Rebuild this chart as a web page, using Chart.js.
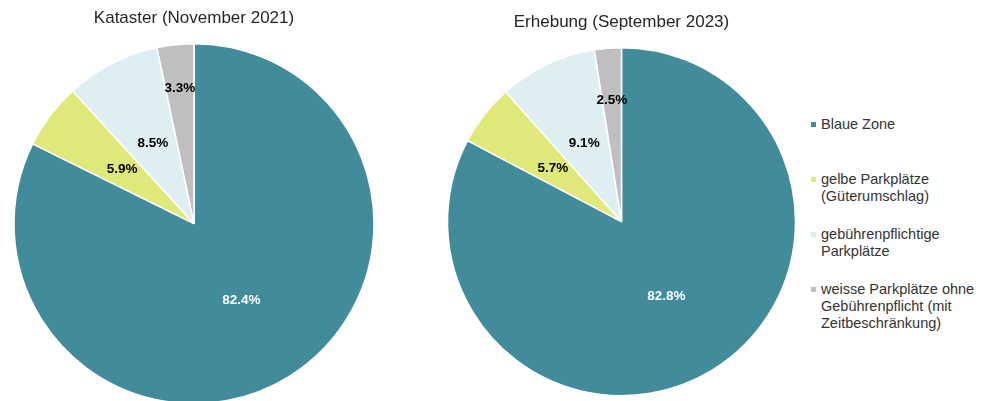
<!DOCTYPE html>
<html>
<head>
<meta charset="utf-8">
<script src="https://cdn.jsdelivr.net/npm/chart.js@4"></script>
<style>
  html, body { margin: 0; padding: 0; background: #fff; }
  body { width: 985px; height: 401px; position: relative; overflow: hidden; font-family: "Liberation Sans", Arial, sans-serif; }
  canvas { position: absolute; }
  #left { left: 0; top: 0; }
  #right { left: 436px; top: 0; }
  #legend { position: absolute; left: 811px; top: 116px; }
  .item { position: relative; height: 55px; padding-left: 10px; font-size: 14.5px; line-height: 17px; color: #333; white-space: nowrap; }
  .item span { position: absolute; left: 0; top: 6px; width: 5px; height: 5px; }
</style>
</head>
<body>
<canvas id="left" width="388" height="409"></canvas>
<canvas id="right" width="371" height="401"></canvas>
<div id="legend"></div>
<script>
const categories = [
  ['Blaue Zone'],
  ['gelbe Parkplätze', '(Güterumschlag)'],
  ['gebührenpflichtige', 'Parkplätze'],
  ['weisse Parkplätze ohne', 'Gebührenpflicht (mit', 'Zeitbeschränkung)']
]
const colors = ['#418b9b', '#e1e87a', '#dfeef3', '#bfbfbf']
const kataster2021 = [82.4, 5.9, 8.5, 3.3]
const erhebung2023 = [82.8, 5.7, 9.1, 2.5]

const FONT = '"Liberation Sans", Arial, sans-serif'

// percent labels inside the slices, small ones pushed outward
const sliceLabels = {
  id: 'sliceLabels',
  afterDatasetsDraw(chart, args, opts) {
    const ctx = chart.ctx
    const meta = chart.getDatasetMeta(0)
    const values = chart.data.datasets[0].data
    ctx.save()
    ctx.font = 'bold 13.5px ' + FONT
    ctx.textAlign = 'center'
    ctx.textBaseline = 'middle'
    meta.data.forEach((arc, i) => {
      const p = arc.getProps(['x', 'y', 'startAngle', 'endAngle', 'outerRadius'], true)
      const mid = (p.startAngle + p.endAngle) / 2
      const f = values[i] < 5 ? opts.smallRadius : 0.5
      ctx.fillStyle = i === 0 ? '#ffffff' : '#000000'
      ctx.fillText(values[i].toFixed(1) + '%', p.x + Math.cos(mid) * p.outerRadius * f, p.y + Math.sin(mid) * p.outerRadius * f)
    })
    ctx.restore()
  }
}

const makePie = (id, title, values, radius, padTop, smallRadius) => {
  new Chart(document.getElementById(id), {
    type: 'pie',
    data: {
      labels: categories,
      datasets: [{
        data: values,
        backgroundColor: colors,
        borderColor: '#ffffff',
        borderWidth: 1.5,
        hoverOffset: 0
      }]
    },
    options: {
      responsive: false,
      animation: false,
      radius: radius,
      layout: { padding: 0 },
      plugins: {
        legend: { display: false },
        tooltip: { enabled: false },
        title: {
          display: true,
          text: title,
          color: '#262626',
          font: { family: FONT, size: 17, weight: 'normal' },
          padding: { top: padTop, bottom: 10 }
        },
        sliceLabels: { smallRadius: smallRadius }
      }
    },
    plugins: [sliceLabels]
  })
}

makePie('left', 'Kataster (November 2021)', kataster2021, 180, 8, 0.755)
makePie('right', 'Erhebung (September 2023)', erhebung2023, 174, 12, 0.70)

const legend = document.getElementById('legend')
categories.forEach((lines, i) => {
  legend.innerHTML += `<div class="item"><span style="background:${colors[i]}"></span>${lines.join('<br>')}</div>`
})
</script>
</body>
</html>
